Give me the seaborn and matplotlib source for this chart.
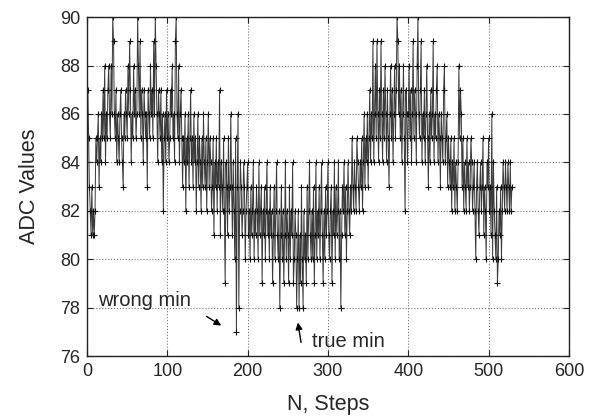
import numpy as np
import pandas as pd
import seaborn as sns
import matplotlib
matplotlib.use("Agg")
import matplotlib.pyplot as plt

# ADC readings, one per step (10 per row)
adc_values = [
    86, 87, 85, 83, 82, 81, 83, 81, 82, 81,
    82, 85, 84, 85, 86, 83, 85, 84, 86, 85,
    87, 85, 88, 84, 86, 85, 87, 88, 86, 85,
    88, 86, 90, 89, 86, 85, 87, 84, 86, 85,
    84, 86, 87, 85, 84, 83, 86, 85, 87, 86,
    85, 88, 86, 89, 87, 84, 86, 85, 88, 86,
    87, 85, 86, 90, 88, 86, 89, 85, 87, 86,
    84, 87, 86, 85, 86, 83, 87, 86, 85, 88,
    86, 87, 85, 89, 86, 90, 88, 86, 84, 87,
    86, 85, 87, 84, 86, 82, 85, 86, 84, 87,
    85, 86, 84, 85, 87, 86, 88, 85, 86, 84,
    89, 90, 86, 85, 88, 84, 86, 87, 85, 83,
    85, 84, 86, 82, 85, 84, 86, 83, 85, 87,
    84, 85, 83, 86, 84, 85, 82, 84, 86, 83,
    85, 84, 82, 85, 83, 86, 84, 83, 85, 82,
    84, 86, 83, 85, 84, 82, 83, 85, 81, 84,
    83, 85, 82, 84, 83, 87, 81, 84, 83, 82,
    85, 82, 79, 84, 83, 81, 85, 82, 83, 86,
    83, 81, 84, 82, 80, 85, 77, 83, 86, 78,
    82, 84, 83, 81, 82, 84, 83, 80, 82, 83,
    84, 81, 82, 80, 83, 81, 82, 84, 80, 82,
    81, 83, 82, 80, 84, 81, 82, 83, 79, 82,
    81, 83, 80, 82, 84, 81, 82, 80, 83, 81,
    82, 79, 81, 83, 80, 82, 84, 81, 80, 82,
    78, 81, 83, 80, 82, 79, 81, 84, 80, 82,
    81, 79, 83, 80, 82, 81, 84, 79, 80, 82,
    81, 78, 80, 82, 78, 81, 79, 83, 80, 78,
    82, 80, 81, 79, 83, 80, 82, 84, 81, 80,
    82, 80, 83, 79, 81, 84, 80, 82, 81, 83,
    80, 82, 84, 81, 79, 82, 80, 83, 81, 82,
    84, 81, 80, 82, 83, 79, 82, 81, 84, 80,
    83, 81, 82, 84, 80, 82, 78, 81, 83, 82,
    84, 81, 83, 80, 82, 84, 82, 81, 83, 82,
    85, 83, 82, 84, 83, 82, 85, 84, 83, 82,
    84, 83, 85, 82, 84, 86, 83, 85, 84, 86,
    83, 85, 87, 84, 86, 85, 89, 84, 86, 88,
    85, 89, 86, 84, 87, 85, 89, 86, 84, 87,
    85, 88, 86, 84, 87, 85, 83, 86, 88, 85,
    87, 84, 86, 88, 85, 87, 90, 89, 86, 88,
    85, 87, 84, 86, 88, 85, 82, 87, 86, 84,
    86, 88, 85, 87, 84, 86, 89, 85, 87, 86,
    84, 88, 90, 86, 85, 87, 89, 84, 86, 85,
    87, 84, 86, 88, 85, 83, 86, 84, 87, 85,
    86, 89, 84, 86, 85, 87, 88, 84, 86, 85,
    83, 86, 85, 84, 87, 88, 84, 85, 86, 83,
    85, 84, 83, 85, 82, 84, 83, 85, 82, 84,
    83, 82, 84, 88, 85, 87, 86, 83, 85, 82,
    84, 83, 82, 85, 83, 84, 82, 83, 85, 84,
    82, 83, 84, 82, 80, 83, 84, 82, 81, 83,
    84, 82, 83, 85, 81, 83, 82, 80, 84, 83,
    85, 82, 83, 81, 86, 80, 84, 82, 81, 80,
    83, 79, 80, 82, 81, 83, 80, 82, 84, 83,
    82, 84, 83, 82, 84, 83, 82, 84, 82, 83,
]
steps = list(range(len(adc_values)))

x_ticks = [0, 100, 200, 300, 400, 500, 600]
y_ticks = [76, 78, 80, 82, 84, 86, 88, 90]

df = pd.DataFrame({"step": steps, "adc": adc_values})

sns.set_style("ticks")
plt.rcParams["font.family"] = ["Liberation Sans", "DejaVu Sans"]

fig = plt.figure(figsize=(5.92, 4.17), dpi=100)
ax = fig.add_axes([0.147, 0.146, 0.814, 0.813])

sns.lineplot(data=df, x="step", y="adc", ax=ax, color="#3a3a3a", linewidth=0.7,
             marker="+", markersize=5, markeredgecolor="#111111",
             markeredgewidth=0.8)

ax.set_xlim(0, 600)
ax.set_ylim(76, 90)
ax.set_xticks(x_ticks)
ax.set_yticks(y_ticks)
ax.grid(True, linestyle=":", color="#777777", linewidth=0.8)
ax.tick_params(direction="in", top=True, right=True, labelsize=13, length=4, pad=5)
for s in ax.spines.values():
    s.set_linewidth(1.0)
    s.set_color("#222222")

ax.set_xlabel("N, Steps", fontsize=15.5, labelpad=10)
ax.set_ylabel("ADC Values", fontsize=15.5, labelpad=14)

ax.text(14, 78.3, "wrong min", fontsize=14.5, va="center", ha="left")
ax.annotate("", xy=(170, 77.2), xytext=(146, 77.7),
            arrowprops=dict(arrowstyle="-|>", color="black", lw=1.0, mutation_scale=10))
ax.text(280, 76.6, "true min", fontsize=14.5, va="center", ha="left")
ax.annotate("", xy=(262, 77.5), xytext=(267, 76.45),
            arrowprops=dict(arrowstyle="-|>", color="black", lw=1.0, mutation_scale=10))

fig.savefig("out.png", dpi=100)
